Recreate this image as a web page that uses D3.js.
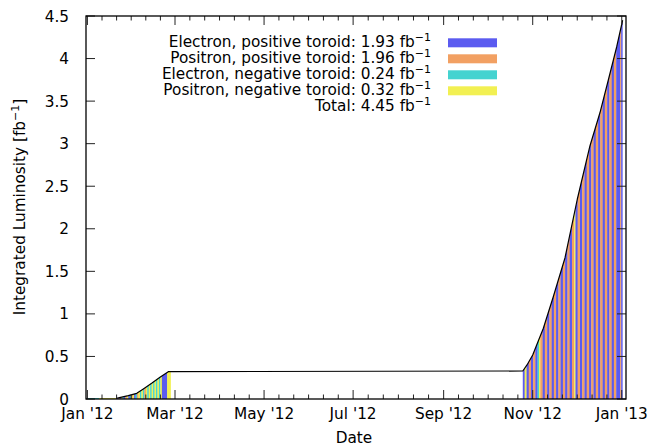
<!DOCTYPE html>
<html><head><meta charset="utf-8">
<script src="https://cdn.jsdelivr.net/npm/d3@7"></script>
<style>
body{margin:0;background:#fff}
svg{display:block}
text{font-family:"DejaVu Sans",sans-serif;fill:#000}
</style>
</head><body>
<svg id="c" width="651" height="446"></svg>
<script>
// ---- data ----
const seriesNames = ["Electron, positive toroid", "Positron, positive toroid", "Electron, negative toroid", "Positron, negative toroid"];
const seriesTotals = [1.93, 1.96, 0.24, 0.32];
const totalLumi = 4.45;
const seriesColors = ["#5b5bf0", "#f2a062", "#44d3d0", "#f2f052"];

// cumulative integrated luminosity, days since 2012-01-01
const lumiDay   = [0, 20, 21.2, 28, 33.8, 38.3, 44, 49.7, 55.4, 298.2, 301.1, 305, 312.3, 319.1, 327.1, 335.5, 344.2, 351, 356.8, 362.5, 366.6];
const lumiValue = [0.012, 0.012, 0.014, 0.039, 0.067, 0.118, 0.184, 0.255, 0.321, 0.329, 0.40, 0.517, 0.831, 1.202, 1.657, 2.344, 2.973, 3.36, 3.748, 4.136, 4.45];
const lineStartIndex = 1;

// run periods: start day and run type (index into series)
const runDay  = [0, 8, 20, 21, 22, 23, 24, 25, 26, 27, 28, 29, 30, 31, 32, 33, 34, 35, 36, 37, 38, 39, 40, 41, 42, 43, 44, 45, 46, 47, 48, 49, 50, 51, 54.6,
  298.2, 299.5, 300.8, 302.3, 303.8, 305.3, 306.8, 308.3, 309.3, 310.2, 311.8, 313.3, 314.9, 316.4, 318, 319.5, 321, 322.6, 324.1, 325.7, 327.2, 328.8, 330.3, 331.9, 333.4, 334.3, 335.8, 337.4, 338.9, 340.5, 342, 343.6, 345.1, 346.7, 348.2, 349.8, 351.3, 352.9, 354.4, 356, 357.5, 359.1, 360.6, 362.2, 364.9, 365.6];
const runType = [2, 3, 0, 1, 0, 1, 2, 0, 1, 3, 0, 2, 1, 3, 0, 2, 1, 3, 2, 3, 2, 1, 3, 2, 3, 2, 3, 2, 3, 2, 3, 2, 3, 0, 3,
  0, 3, 0, 1, 0, 1, 0, 2, 3, 1, 0, 1, 0, 1, 0, 1, 0, 1, 0, 1, 0, 1, 0, 1, 3, 0, 1, 0, 1, 0, 1, 0, 1, 0, 1, 0, 1, 0, 1, 0, 1, 0, 1, 0, 1, 0];
// end day of each run block
const runEnd  = [8, 20, 21, 22, 23, 24, 25, 26, 27, 28, 29, 30, 31, 32, 33, 34, 35, 36, 37, 38, 39, 40, 41, 42, 43, 44, 45, 46, 47, 48, 49, 50, 51, 54.6, 57,
  299.5, 300.8, 302.3, 303.8, 305.3, 306.8, 308.3, 309.3, 310.2, 311.8, 313.3, 314.9, 316.4, 318, 319.5, 321, 322.6, 324.1, 325.7, 327.2, 328.8, 330.3, 331.9, 333.4, 334.3, 335.8, 337.4, 338.9, 340.5, 342, 343.6, 345.1, 346.7, 348.2, 349.8, 351.3, 352.9, 354.4, 356, 357.5, 359.1, 360.6, 362.2, 364.9, 365.6, 366.8];

const xTickDates  = ["2012-01-01", "2012-03-01", "2012-05-01", "2012-07-01", "2012-09-01", "2012-11-01", "2013-01-01"];
const xTickLabels = ["Jan '12", "Mar '12", "May '12", "Jul '12", "Sep '12", "Nov '12", "Jan '13"];
const yTicks = [0, 0.5, 1, 1.5, 2, 2.5, 3, 3.5, 4, 4.5];
const yTickLabels = ["0", "0.5", "1", "1.5", "2", "2.5", "3", "3.5", "4", "4.5"];

// ---- layout ----
const L = 86, R = 626, T = 16, B = 399;
const base = Date.UTC(2012, 0, 1);
const dayToDate = d => new Date(base + d * 864e5);
const parseD = s => new Date(s + "T00:00:00Z");

const x = d3.scaleUtc().domain([dayToDate(-0.96), dayToDate(368.9)]).range([L, R]);
const y = d3.scaleLinear().domain([0, 4.5]).range([B, T]);

const svg = d3.select("#c");

// clip: area under cumulative curve
const pts = lumiDay.map((d, i) => ({d, v: lumiValue[i]}));
const area = d3.area().x(p => x(dayToDate(p.d))).y0(y(0)).y1(p => y(p.v));
svg.append("clipPath").attr("id", "under").append("path").attr("d", area(pts));

const runs = runDay.map((d, i) => ({s: d, e: runEnd[i], t: runType[i]}));
svg.append("g").attr("clip-path", "url(#under)")
  .selectAll("rect").data(runs).join("rect")
  .attr("x", r => x(dayToDate(r.s)))
  .attr("width", r => Math.max(0.5, x(dayToDate(r.e)) - x(dayToDate(r.s)) + 0.25))
  .attr("y", T).attr("height", B - T)
  .attr("fill", r => seriesColors[r.t]);

// cumulative line
const line = d3.line().x(p => x(dayToDate(p.d))).y(p => y(p.v));
svg.append("path").attr("d", line(pts.slice(lineStartIndex)))
  .attr("fill", "none").attr("stroke", "#000").attr("stroke-width", 1.2).attr("stroke-linejoin", "round");

// ticks
const tickCol = "#222";
const majX = xTickDates.map(s => x(parseD(s)));
const gt = svg.append("g").attr("stroke", tickCol).attr("stroke-width", 1);
majX.forEach(px => {
  gt.append("line").attr("x1", px).attr("x2", px).attr("y1", B).attr("y2", B - 9);
  gt.append("line").attr("x1", px).attr("x2", px).attr("y1", T).attr("y2", T + 9);
});
for (let i = 0; i < majX.length - 1; i++) {
  for (let k = 1; k < 6; k++) {
    const px = majX[i] + (majX[i + 1] - majX[i]) * k / 6;
    gt.append("line").attr("x1", px).attr("x2", px).attr("y1", B).attr("y2", B - 4.5);
    gt.append("line").attr("x1", px).attr("x2", px).attr("y1", T).attr("y2", T + 4.5);
  }
}
yTicks.forEach(v => {
  gt.append("line").attr("x1", L).attr("x2", L + 9).attr("y1", y(v)).attr("y2", y(v));
  gt.append("line").attr("x1", R).attr("x2", R - 9).attr("y1", y(v)).attr("y2", y(v));
});

// border
svg.append("rect").attr("x", L).attr("y", T).attr("width", R - L).attr("height", B - T)
  .attr("fill", "none").attr("stroke", "#000").attr("stroke-width", 1.3);

const fs = 15.3, sfs = 11;
// tick labels
svg.append("g").selectAll("text").data(xTickLabels).join("text")
  .attr("x", (d, i) => majX[i]).attr("y", 419).attr("text-anchor", "middle")
  .attr("font-size", fs).text(d => d);
svg.append("g").selectAll("text").data(yTickLabels).join("text")
  .attr("x", 69).attr("y", (d, i) => y(yTicks[i]) + 5.5).attr("text-anchor", "end")
  .attr("font-size", fs).text(d => d);

// axis titles
svg.append("text").attr("x", 354).attr("y", 443).attr("text-anchor", "middle").attr("font-size", fs).text("Date");
const yl = svg.append("text").attr("transform", "translate(25,207) rotate(-90)").attr("text-anchor", "middle").attr("font-size", fs);
yl.append("tspan").text("Integrated Luminosity [fb");
yl.append("tspan").attr("dy", -6).attr("font-size", sfs).text("\u22121");
yl.append("tspan").attr("dy", 6).text("]");

// legend
const lg = svg.append("g");
const rowsY = [47.3, 63.3, 79.3, 95.3, 111.3];
const legendRows = seriesNames.map((n, i) => ({label: n + ": " + seriesTotals[i].toFixed(2) + " fb", c: seriesColors[i]}));
legendRows.push({label: "Total: " + totalLumi.toFixed(2) + " fb", c: null});
legendRows.forEach((r, i) => {
  const t = lg.append("text").attr("x", 431).attr("y", rowsY[i]).attr("text-anchor", "end").attr("font-size", fs);
  t.append("tspan").text(r.label);
  t.append("tspan").attr("dy", -6.5).attr("font-size", sfs).text("\u22121");
  if (r.c) lg.append("rect").attr("x", 448).attr("y", rowsY[i] - 9).attr("width", 49).attr("height", 9).attr("fill", r.c);
});
</script>
</body></html>
